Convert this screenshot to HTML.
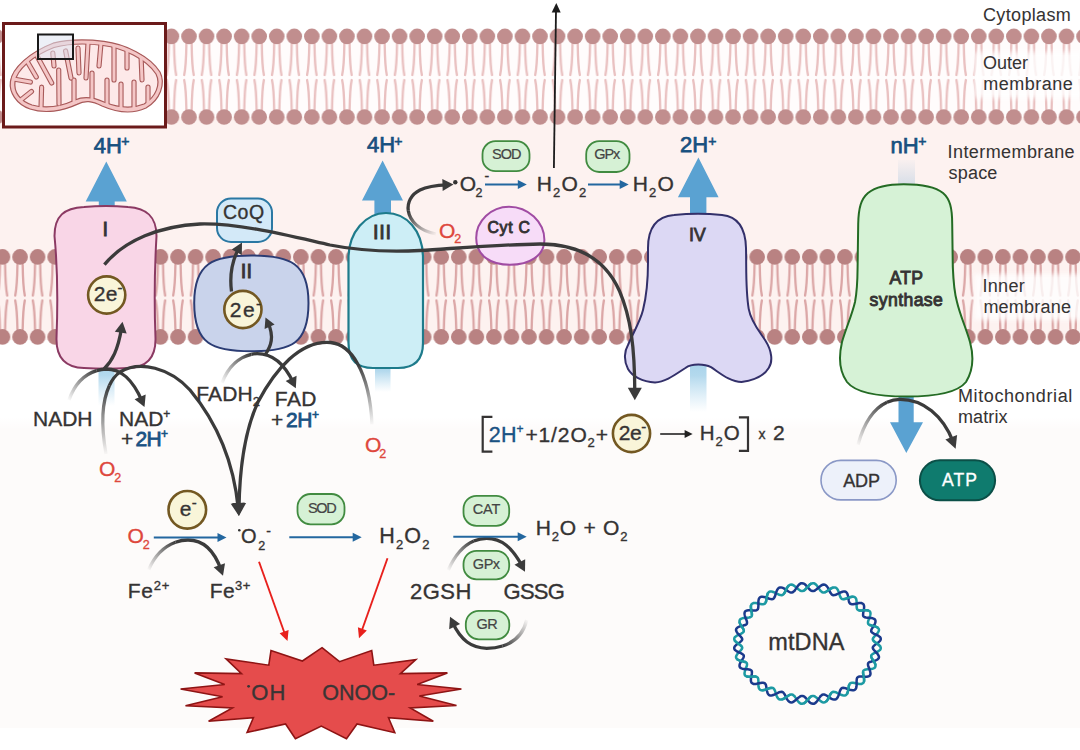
<!DOCTYPE html>
<html><head><meta charset="utf-8">
<style>
html,body{margin:0;padding:0;background:#ffffff;overflow:hidden}
svg{display:block}
text{font-family:"Liberation Sans",sans-serif;fill:#353333;stroke:#353333;stroke-width:0.35px}
.b{font-weight:bold}
.blue{fill:#17507f}
.red{fill:#de473c}
</style></head>
<body>
<svg width="1080" height="750" viewBox="0 0 1080 750">
<defs>
<pattern id="pOut" patternUnits="userSpaceOnUse" x="4.725" y="0" width="17.55" height="130">
  <g fill="none" stroke="#e9c0c0" stroke-width="2.3" stroke-linecap="round">
    <path d="M6.2 44 C6 58 5.5 68 4 75"/><path d="M11.4 44 C11.6 58 12 68 13.5 75"/>
    <path d="M4 80 C5.5 87 6 98 6.2 110"/><path d="M13.5 80 C12 87 11.6 98 11.4 110"/>
  </g>
  <g fill="#c18e8e"><circle cx="8.775" cy="36.4" r="7.8"/><circle cx="8.775" cy="117" r="7.8"/></g>
</pattern>
<pattern id="pIn" patternUnits="userSpaceOnUse" x="-6.275" y="0" width="17.55" height="360">
  <g fill="none" stroke="#dba6a6" stroke-width="2.3" stroke-linecap="round">
    <path d="M6.2 265 C6 279 5.5 288 4 295.5"/><path d="M11.4 265 C11.6 279 12 288 13.5 295.5"/>
    <path d="M4 300.5 C5.5 308 6 318 6.2 329"/><path d="M13.5 300.5 C12 308 11.6 318 11.4 329"/>
  </g>
  <g fill="#b98282"><circle cx="8.775" cy="256.9" r="7.8"/><circle cx="8.775" cy="336.9" r="7.8"/></g>
</pattern>
<clipPath id="bandclip"><path d="M10.4 81.6 C12 68 30 52 53 43.2 C68 39.5 85 39 104 41.4 C125 44 150 56 160 72 C166 84 160 100 146 108 C133 114 118 113 102 106 C92 101 85 100 77 104.4 C63 111 45 114 30 109 C16 104 9 92 10.4 81.6 Z"/></clipPath>
</defs>

<!-- backgrounds -->
<rect x="0" y="0" width="1080" height="750" fill="#fdfbfa"/>
<rect x="0" y="0" width="1080" height="40" fill="#ffffff"/>
<rect x="0" y="40" width="1080" height="77" fill="#fffcfc"/>
<rect x="0" y="117" width="1080" height="223" fill="#fdf2f0"/>
<linearGradient id="mband" x1="0" y1="0" x2="0" y2="1"><stop offset="0" stop-color="#ffffff"/><stop offset="0.86" stop-color="#ffffff"/><stop offset="1" stop-color="#ffffff" stop-opacity="0"/></linearGradient>
<rect x="0" y="340" width="1080" height="90" fill="url(#mband)"/>
<rect x="0" y="728" width="1080" height="22" fill="#ffffff"/>

<!-- membranes -->
<rect x="0" y="26" width="1080" height="100" fill="url(#pOut)"/>
<rect x="0" y="247" width="1080" height="100" fill="url(#pIn)"/>

<!-- label backdrops -->
<filter id="soft" x="-20%" y="-30%" width="140%" height="160%"><feGaussianBlur stdDeviation="2.5"/></filter>
<rect x="974" y="52" width="110" height="46" fill="#ffffff" opacity="0.8" filter="url(#soft)"/>
<rect x="974" y="274" width="110" height="46" fill="#ffffff" opacity="0.8" filter="url(#soft)"/>

<!-- inset -->
<rect x="3.5" y="23.5" width="162" height="103.5" fill="#ffffff" stroke="#6b1a1a" stroke-width="3"/>
<path fill="#f4c6c6" d="M10.4 81.6 C12 68 30 52 53 43.2 C68 39.5 85 39 104 41.4 C125 44 150 56 160 72 C166 84 160 100 146 108 C133 114 118 113 102 106 C92 101 85 100 77 104.4 C63 111 45 114 30 109 C16 104 9 92 10.4 81.6 Z"/>
<path fill="#fde9e9" d="M15 81.6 C17 70 32 56 54 47.5 C69 43.5 85 43 103 45.5 C123 48 146 59 156 74 C161 84 156 97 144 104 C132 109 119 108 104 102 C93 97 84 96 75 100 C62 106 46 109 32 105 C20 101 13.5 92 15 81.6 Z"/>
<path fill="none" stroke="#a85a5a" stroke-width="5.2" stroke-linecap="round" clip-path="url(#bandclip)" d="M37 56 L51.7 83 M52.8 53 L54 66 M65.6 51 L71 78 M78 48 L79 73 M88 43 L86 78 M101 43 L99 66 M114 45 L114 80 M127 49 L127 68 M141 55 L142 80 M12 78.7 L30.4 82 M24 56 L36.3 77 M17 103 L31.5 91.5 M41 109 L41.6 87.2 M59 104 L58.7 70.1 M74 101 L74 80 M92 102 L92 73 M107 106 L107 80 M121 109 L121 84 M134 109 L134 82 M148 104 L148 87"/>

<path fill="#f4c6c6" fill-rule="evenodd" d="M10.4 81.6 C12 68 30 52 53 43.2 C68 39.5 85 39 104 41.4 C125 44 150 56 160 72 C166 84 160 100 146 108 C133 114 118 113 102 106 C92 101 85 100 77 104.4 C63 111 45 114 30 109 C16 104 9 92 10.4 81.6 Z M15 81.6 C17 70 32 56 54 47.5 C69 43.5 85 43 103 45.5 C123 48 146 59 156 74 C161 84 156 97 144 104 C132 109 119 108 104 102 C93 97 84 96 75 100 C62 106 46 109 32 105 C20 101 13.5 92 15 81.6 Z"/>
<path fill="none" stroke="#a85a5a" stroke-width="1.2" d="M15 81.6 C17 70 32 56 54 47.5 C69 43.5 85 43 103 45.5 C123 48 146 59 156 74 C161 84 156 97 144 104 C132 109 119 108 104 102 C93 97 84 96 75 100 C62 106 46 109 32 105 C20 101 13.5 92 15 81.6 Z"/>
<path fill="none" stroke="#f4c6c6" stroke-width="3" stroke-linecap="round" clip-path="url(#bandclip)" d="M37 56 L51.7 83 M52.8 53 L54 66 M65.6 51 L71 78 M78 48 L79 73 M88 43 L86 78 M101 43 L99 66 M114 45 L114 80 M127 49 L127 68 M141 55 L142 80 M12 78.7 L30.4 82 M24 56 L36.3 77 M17 103 L31.5 91.5 M41 109 L41.6 87.2 M59 104 L58.7 70.1 M74 101 L74 80 M92 102 L92 73 M107 106 L107 80 M121 109 L121 84 M134 109 L134 82 M148 104 L148 87"/>
<path fill="none" stroke="#a85a5a" stroke-width="1.2" d="M10.4 81.6 C12 68 30 52 53 43.2 C68 39.5 85 39 104 41.4 C125 44 150 56 160 72 C166 84 160 100 146 108 C133 114 118 113 102 106 C92 101 85 100 77 104.4 C63 111 45 114 30 109 C16 104 9 92 10.4 81.6 Z"/>
<rect x="38" y="34.5" width="35" height="24.5" fill="#dfe3f0" fill-opacity="0.55" stroke="#1a1a1a" stroke-width="2"/>


<!-- gradients -->
<defs>
<linearGradient id="fadeB" x1="0" y1="0" x2="0" y2="1"><stop offset="0" stop-color="#a6d2ea"/><stop offset="0.3" stop-color="#a6d2ea" stop-opacity="0.85"/><stop offset="1" stop-color="#b6dbef" stop-opacity="0"/></linearGradient>
<linearGradient id="fadeG" x1="0" y1="0" x2="0" y2="1"><stop offset="0" stop-color="#d3dce7" stop-opacity="0.1"/><stop offset="1" stop-color="#d3dce7"/></linearGradient>
</defs>
<!-- faded shafts -->
<rect x="98.5" y="362" width="16" height="44" fill="url(#fadeB)"/>
<rect x="375" y="362" width="15.5" height="30" fill="url(#fadeB)"/>
<rect x="690" y="360" width="16.5" height="52" fill="url(#fadeB)"/>
<rect x="898" y="160" width="17" height="28" fill="url(#fadeG)"/>

<!-- blue up arrows -->
<g fill="#5aa2d2">
<path d="M106.3 161.4 L126.8 201.5 L114.7 201.5 L114.7 212 L98.8 212 L98.8 201.5 L85.7 201.5 Z"/>
<path d="M382.6 160.6 L403 200.6 L391 200.6 L391 218 L374.4 218 L374.4 200.6 L362 200.6 Z"/>
<path d="M698.4 157.5 L718.6 197.2 L706.4 197.2 L706.4 218 L690 218 L690 197.2 L677.9 197.2 Z"/>
<path d="M906.3 453.1 L923 422.2 L913.7 422.2 L913.7 392 L898.5 392 L898.5 422.2 L890 422.2 Z"/>
</g>

<!-- Complex I -->
<path fill="#f9d6e7" stroke="#8b3a63" stroke-width="2" d="M84 207 Q106 205 128 207 C146 208 156.5 216 156.5 236 C155 262 154 300 155.5 338 C156 358 146 367.5 128 368 Q106 369.5 84 368 C66 367.5 56 358 56.5 338 C58 300 57 262 54.5 236 C54.5 216 64 208 84 207 Z"/>
<!-- CoQ -->
<rect x="217" y="198.5" width="55" height="43.5" rx="14" fill="#d3e9f8" stroke="#2b78a3" stroke-width="2"/>
<!-- Complex II -->
<path fill="#c9d3eb" stroke="#2b3c74" stroke-width="2" d="M251.5 255.5 C290 255.5 308.5 263 308.5 303 C308.5 344 291 351.3 251.5 351.3 C212 351.3 194.2 344 194.2 303 C194.2 263 213 255.5 251.5 255.5 Z"/>
<!-- Complex III -->
<path fill="#cdeef6" stroke="#1e7b8b" stroke-width="2.2" d="M348.5 258 C348.5 232 366 213 386 213 C406 213 423 230 423 258 L423 343 C423 360 414 368 398 368 L373 368 C357 368 348.5 360 348.5 343 Z"/>
<!-- Complex IV -->
<path fill="#dcd8f4" stroke="#33306a" stroke-width="2" d="M674 215 C690 213.2 706 213.2 722 215 C738 216.5 745.5 228 746 248 C746.5 270 745.5 290 748.7 308.8 C751 322 760 332 765.5 340.8 C772 351 773 362 768.7 368 C764 376 755 380 741.5 382 C730 382 720 373 711 367.2 C705 364 692 363 685.4 368 C676 374 666 382 655 382.4 C642 382 632 376 628 369 C623 360 625 350 628 345 C633 333 640 322 643 310 C646 298 648 280 648 262 L648 248 C648 228 657 216.5 674 215 Z"/>
<!-- ATP synthase -->
<path fill="#d6f2d6" stroke="#246b24" stroke-width="2" d="M903.7 184.2 C920 184.2 935 186.5 943 193 C950 199 952.2 208 952.2 224 C952.3 240 952.6 255 952.8 267 C953.5 285 955 295 957 302 C960 315 966 328 970 342 C973.5 355 973.5 370 966 382 C958 392 940 396.6 906.7 396.6 C873 396.6 855 392 847 382 C839 371 839 355 842 342 C846 328 852 315 855 302 C857 292 857.5 280 857.6 267 L858.2 224 C858.5 208 861 199 868 193 C876 186.5 888 184.2 903.7 184.2 Z"/>
<!-- Cyt C -->
<path fill="#f7dcf8" stroke="#a04ca3" stroke-width="2" d="M509 206.7 C528 206.7 544.4 222 544.4 240 C544.4 256 529 264.8 510 264.8 C491 264.8 476.2 256 476.2 238 C476.2 221 491 206.7 509 206.7 Z"/>

<!-- ARROWS START -->
<defs>
<linearGradient id="g_fad" gradientUnits="userSpaceOnUse" x1="222.0" y1="382.8" x2="251.4" y2="354.3"><stop offset="0" stop-color="#3b3b3b" stop-opacity="0.03"/><stop offset="1" stop-color="#3b3b3b"/></linearGradient>
<linearGradient id="g_nad" gradientUnits="userSpaceOnUse" x1="69.0" y1="400.0" x2="96.7" y2="370.7"><stop offset="0" stop-color="#3b3b3b" stop-opacity="0.03"/><stop offset="1" stop-color="#3b3b3b"/></linearGradient>
<linearGradient id="g_o1" gradientUnits="userSpaceOnUse" x1="106.0" y1="454.0" x2="109.4" y2="385.5"><stop offset="0" stop-color="#3b3b3b" stop-opacity="0.03"/><stop offset="1" stop-color="#3b3b3b"/></linearGradient>
<linearGradient id="g_o3" gradientUnits="userSpaceOnUse" x1="372.0" y1="424.4" x2="357.5" y2="363.5"><stop offset="0" stop-color="#3b3b3b" stop-opacity="0.03"/><stop offset="1" stop-color="#3b3b3b"/></linearGradient>
<linearGradient id="g_o2" gradientUnits="userSpaceOnUse" x1="436.0" y1="234.0" x2="408.3" y2="210.8"><stop offset="0" stop-color="#3b3b3b" stop-opacity="0.03"/><stop offset="1" stop-color="#3b3b3b"/></linearGradient>
<linearGradient id="g_fe" gradientUnits="userSpaceOnUse" x1="148.7" y1="569.6" x2="175.5" y2="542.3"><stop offset="0" stop-color="#3b3b3b" stop-opacity="0.03"/><stop offset="1" stop-color="#3b3b3b"/></linearGradient>
<linearGradient id="g_gpx" gradientUnits="userSpaceOnUse" x1="448.3" y1="570.0" x2="473.8" y2="541.0"><stop offset="0" stop-color="#3b3b3b" stop-opacity="0.03"/><stop offset="1" stop-color="#3b3b3b"/></linearGradient>
<linearGradient id="g_gr" gradientUnits="userSpaceOnUse" x1="526.7" y1="620.0" x2="502.5" y2="646.0"><stop offset="0" stop-color="#3b3b3b" stop-opacity="0.03"/><stop offset="1" stop-color="#3b3b3b"/></linearGradient>
<linearGradient id="g_atp" gradientUnits="userSpaceOnUse" x1="858.0" y1="444.8" x2="887.0" y2="402.3"><stop offset="0" stop-color="#3b3b3b" stop-opacity="0.03"/><stop offset="1" stop-color="#3b3b3b"/></linearGradient>
</defs>
<path d="M104.4 264.6 C125.0 240.0 160.0 226.0 200.0 224.0 C240.0 223.0 290.0 236.0 330.0 245.0 C360.0 251.0 390.0 252.0 420.0 250.5 C460.0 248.0 500.0 244.5 540.0 244.0 C582.0 244.0 607.0 263.0 619.5 291.0 C630.9 317.7 634.7 347.1 634.8 393.3" fill="none" stroke="#3b3b3b" stroke-width="3.3"/>
<polygon points="634.8,400.2 627.8,387.7 641.8,387.7" fill="#3b3b3b"/>
<path d="M231.5 291.5 C229.7 277.6 230.7 263.2 239.0 247.8" fill="none" stroke="#3b3b3b" stroke-width="3.3"/>
<polygon points="242.0,242.5 241.8,254.9 231.7,249.5" fill="#3b3b3b"/>
<path d="M264.8 355.4 C271.3 346.0 274.4 337.0 267.9 322.4" fill="none" stroke="#3b3b3b" stroke-width="3.3"/>
<polygon points="265.5,317.5 274.6,324.4 264.6,328.9" fill="#3b3b3b"/>
<path d="M222.0 382.8 C228.8 365.1 240.7 356.7 251.4 354.3" fill="none" stroke="url(#g_fad)" stroke-width="3.3"/>
<path d="M251.4 354.3 C253.3 353.9 255.2 353.7 257.0 353.6 C270.9 353.5 283.1 360.8 293.4 382.8" fill="none" stroke="#3b3b3b" stroke-width="3.3"/>
<polygon points="295.8,388.3 285.7,380.9 296.6,375.8" fill="#3b3b3b"/>
<path d="M69.0 400.0 C74.6 384.0 84.7 374.4 96.7 370.7" fill="none" stroke="url(#g_nad)" stroke-width="3.3"/>
<path d="M96.7 370.7 C99.7 369.8 102.8 369.2 106.0 369.0 C120.8 369.0 132.2 378.5 142.2 401.4" fill="none" stroke="#3b3b3b" stroke-width="3.3"/>
<polygon points="144.5,407.0 134.6,399.3 145.7,394.5" fill="#3b3b3b"/>
<path d="M104.0 369.0 C112.3 360.7 118.0 349.9 121.6 327.8" fill="none" stroke="#3b3b3b" stroke-width="3.3"/>
<polygon points="122.5,321.8 126.7,333.6 114.8,331.7" fill="#3b3b3b"/>
<path d="M106.0 454.0 C101.5 428.5 101.5 402.4 109.4 385.5" fill="none" stroke="url(#g_o1)" stroke-width="3.3"/>
<path d="M109.4 385.5 C112.0 379.9 115.5 375.2 120.0 372.0 C140.0 360.0 170.0 368.0 190.0 390.0 C213.9 418.7 233.3 456.6 238.3 508.9" fill="none" stroke="#3b3b3b" stroke-width="3.3"/>
<polygon points="238.9,516.0 230.7,503.7 244.7,502.4" fill="#3b3b3b"/>
<path d="M372.0 424.4 C370.9 400.0 365.9 378.4 357.5 363.5" fill="none" stroke="url(#g_o3)" stroke-width="3.3"/>
<path d="M357.5 363.5 C350.7 351.3 341.6 343.6 330.6 342.5 C300.0 340.0 275.0 370.0 258.0 402.0 C245.7 428.5 239.6 465.8 239.0 508.8" fill="none" stroke="#3b3b3b" stroke-width="3.3"/>
<polygon points="238.9,516.0 232.1,502.9 246.1,503.1" fill="#3b3b3b"/>
<path d="M436.0 234.0 C418.9 230.7 409.8 220.7 408.3 210.8" fill="none" stroke="url(#g_o2)" stroke-width="3.3"/>
<path d="M408.3 210.8 C407.1 202.6 411.0 194.5 420.0 190.0 C427.0 186.5 434.0 185.3 447.4 184.8" fill="none" stroke="#3b3b3b" stroke-width="3.3"/>
<polygon points="453.5,184.6 442.7,191.0 442.3,179.0" fill="#3b3b3b"/>
<path d="M148.7 569.6 C155.2 554.5 165.5 546.0 175.5 542.3" fill="none" stroke="url(#g_fe)" stroke-width="3.3"/>
<path d="M175.5 542.3 C179.8 540.7 184.1 540.0 188.0 540.0 C203.6 540.0 214.1 550.1 221.1 569.9" fill="none" stroke="#3b3b3b" stroke-width="3.3"/>
<polygon points="223.0,575.7 213.7,567.3 225.0,563.3" fill="#3b3b3b"/>
<path d="M448.3 570.0 C455.1 554.6 464.0 545.2 473.8 541.0" fill="none" stroke="url(#g_gpx)" stroke-width="3.3"/>
<path d="M473.8 541.0 C477.9 539.2 482.3 538.3 486.7 538.3 C501.6 538.3 512.1 547.3 522.3 566.3" fill="none" stroke="#3b3b3b" stroke-width="3.3"/>
<polygon points="525.0,571.7 514.5,564.8 525.2,559.2" fill="#3b3b3b"/>
<path d="M526.7 620.0 C523.4 634.0 514.1 642.3 502.5 646.0" fill="none" stroke="url(#g_gr)" stroke-width="3.3"/>
<path d="M502.5 646.0 C497.6 647.6 492.2 648.3 486.7 648.3 C471.5 648.0 461.0 640.5 452.4 622.3" fill="none" stroke="#3b3b3b" stroke-width="3.3"/>
<polygon points="450.0,616.7 460.1,624.1 449.2,629.2" fill="#3b3b3b"/>
<path d="M858.0 444.8 C864.0 422.4 874.5 408.1 887.0 402.3" fill="none" stroke="url(#g_atp)" stroke-width="3.3"/>
<path d="M887.0 402.3 C891.1 400.4 895.5 399.4 900.0 399.4 C923.2 399.4 943.0 415.5 953.4 442.3" fill="none" stroke="#3b3b3b" stroke-width="3.3"/>
<polygon points="955.6,448.7 945.4,439.5 957.1,435.1" fill="#3b3b3b"/>
<line x1="485" y1="184.4" x2="520.8" y2="184.4" stroke="#23679f" stroke-width="2"/>
<polygon points="526.8,184.4 517.8,188.9 517.8,179.9" fill="#23679f"/>
<line x1="588" y1="184.4" x2="622.7" y2="184.4" stroke="#23679f" stroke-width="2"/>
<polygon points="628.7,184.4 619.7,188.9 619.7,179.9" fill="#23679f"/>
<line x1="153.8" y1="537.4" x2="220.5" y2="537.4" stroke="#23679f" stroke-width="2"/>
<polygon points="226.5,537.4 217.5,541.9 217.5,532.9" fill="#23679f"/>
<line x1="289.3" y1="537.3" x2="355.7" y2="537.3" stroke="#23679f" stroke-width="2"/>
<polygon points="361.7,537.3 352.7,541.8 352.7,532.8" fill="#23679f"/>
<line x1="453.3" y1="536.7" x2="520.7" y2="536.7" stroke="#23679f" stroke-width="2"/>
<polygon points="526.7,536.7 517.7,541.2 517.7,532.2" fill="#23679f"/>
<line x1="553.9" y1="168" x2="556" y2="10" stroke="#1c1c1c" stroke-width="1.8"/>
<polygon points="556.3,3.0 560.7,12.6 551.7,12.4" fill="#1c1c1c"/>
<line x1="660.2" y1="434" x2="686" y2="434" stroke="#222" stroke-width="1.6"/>
<polygon points="692.6,434.0 684.6,438.0 684.6,430.0" fill="#222"/>
<line x1="259" y1="561.8" x2="284.5" y2="633" stroke="#e8201c" stroke-width="1.9"/>
<polygon points="287.5,641.0 279.6,633.2 288.6,630.0" fill="#e8201c"/>
<line x1="387.5" y1="558.3" x2="362" y2="630" stroke="#e8201c" stroke-width="1.9"/>
<polygon points="359.0,638.2 357.9,627.2 366.8,630.4" fill="#e8201c"/>
<!-- ARROWS END -->

<!-- MISC START -->
<polygon points="322,647.7 339.5,661.7 371.7,650.5 373.8,665.2 415.8,659.6 400.4,673.6 447.4,672.9 417.2,684.5 461.4,689 419.3,696 456.5,705.5 410.2,707.9 433.3,721.2 388.5,717.7 394.8,732.7 357,724 346.5,738.7 321.3,726.1 295.4,738.7 285.6,724 247.1,732.4 253.4,717.7 208.6,721.2 232.4,707.9 185.5,705.8 222.6,696.7 180.6,689 224.7,684.5 194.6,672.9 241.5,673.6 226.1,658.9 268.8,665.2 271,650.5 302.4,661" fill="#e54c4c" stroke="#8e1414" stroke-width="1.6" stroke-linejoin="miter"/>
<path d="M877.0 643.5 L878.2 644.4 L879.2 645.3 L880.1 646.2 L880.6 647.2 L880.8 648.1 L880.6 649.0 L880.1 649.9 L879.2 650.6 L878.1 651.4 L876.8 652.0 L875.5 652.6 L874.2 653.2 L873.0 653.8 L872.1 654.4 L871.5 655.0 L871.2 655.7 L871.2 656.6 L871.5 657.5 L872.1 658.6 L872.8 659.7 L873.6 661.0 L874.4 662.2 L875.0 663.5 L875.4 664.7 L875.5 665.8 L875.4 666.7 L874.9 667.5 L874.0 668.1 L872.9 668.6 L871.6 668.9 L870.2 669.1 L868.7 669.2 L867.3 669.3 L866.0 669.5 L864.9 669.7 L864.0 670.2 L863.4 670.8 L863.1 671.6 L863.1 672.7 L863.2 673.9 L863.4 675.3 L863.7 676.7 L864.0 678.2 L864.1 679.6 L864.1 680.9 L863.8 682.0 L863.3 682.9 L862.5 683.5 L861.5 683.9 L860.2 684.0 L858.9 683.9 L857.4 683.6 L855.9 683.3 L854.5 683.0 L853.1 682.7 L852.0 682.7 L851.0 682.9 L850.2 683.3 L849.6 684.0 L849.1 685.0 L848.8 686.3 L848.6 687.7 L848.4 689.2 L848.1 690.7 L847.7 692.2 L847.3 693.4 L846.6 694.4 L845.8 695.1 L844.9 695.5 L843.7 695.6 L842.5 695.3 L841.1 694.8 L839.7 694.2 L838.4 693.5 L837.0 692.8 L835.8 692.2 L834.6 691.9 L833.5 691.8 L832.6 692.0 L831.8 692.5 L831.0 693.4 L830.3 694.5 L829.6 695.8 L829.0 697.2 L828.3 698.6 L827.5 699.9 L826.7 701.0 L825.8 701.8 L824.8 702.3 L823.7 702.4 L822.5 702.2 L821.4 701.6 L820.2 700.8 L819.0 699.8 L817.8 698.8 L816.6 697.8 L815.5 696.9 L814.5 696.2 L813.4 695.9 L812.5 695.9 L811.5 696.2 L810.5 696.8 L809.5 697.7 L808.5 698.8 L807.5 700.0 L806.4 701.2 L805.4 702.2 L804.3 703.1 L803.2 703.6 L802.1 703.8 L801.0 703.7 L799.9 703.1 L798.9 702.3 L798.0 701.2 L797.1 700.0 L796.2 698.6 L795.3 697.4 L794.5 696.2 L793.6 695.4 L792.7 694.7 L791.8 694.5 L790.8 694.5 L789.7 694.9 L788.5 695.5 L787.3 696.3 L786.0 697.2 L784.7 698.1 L783.4 698.9 L782.2 699.4 L781.0 699.6 L779.9 699.6 L778.9 699.1 L778.1 698.4 L777.3 697.3 L776.7 696.0 L776.2 694.6 L775.7 693.1 L775.3 691.7 L774.8 690.4 L774.2 689.3 L773.6 688.5 L772.8 688.0 L771.8 687.8 L770.7 687.9 L769.4 688.2 L768.1 688.7 L766.6 689.2 L765.2 689.7 L763.8 690.1 L762.5 690.3 L761.3 690.2 L760.3 689.9 L759.5 689.2 L758.9 688.3 L758.6 687.1 L758.4 685.7 L758.4 684.2 L758.4 682.7 L758.4 681.2 L758.3 679.9 L758.2 678.7 L757.8 677.8 L757.2 677.2 L756.4 676.7 L755.4 676.5 L754.2 676.5 L752.8 676.6 L751.3 676.7 L749.8 676.8 L748.3 676.8 L747.1 676.6 L746.0 676.2 L745.2 675.6 L744.7 674.8 L744.5 673.8 L744.6 672.6 L744.9 671.2 L745.3 669.8 L745.8 668.5 L746.4 667.1 L746.8 665.9 L747.0 664.8 L747.0 663.9 L746.8 663.1 L746.2 662.5 L745.3 662.0 L744.1 661.7 L742.8 661.3 L741.4 661.0 L740.0 660.6 L738.7 660.1 L737.5 659.5 L736.7 658.8 L736.2 658.0 L736.0 657.1 L736.2 656.1 L736.7 655.1 L737.4 654.0 L738.4 652.9 L739.4 651.8 L740.3 650.8 L741.2 649.8 L741.8 649.0 L742.2 648.1 L742.2 647.4 L741.8 646.6 L741.2 645.9 L740.3 645.1 L739.2 644.3 L738.0 643.5 L736.8 642.6 L735.8 641.7 L734.9 640.8 L734.4 639.8 L734.2 638.9 L734.4 638.0 L734.9 637.1 L735.8 636.4 L736.9 635.6 L738.2 635.0 L739.5 634.4 L740.8 633.8 L742.0 633.2 L742.9 632.6 L743.5 632.0 L743.8 631.3 L743.8 630.4 L743.5 629.5 L742.9 628.4 L742.2 627.3 L741.4 626.0 L740.6 624.8 L740.0 623.5 L739.6 622.3 L739.5 621.2 L739.6 620.3 L740.1 619.5 L741.0 618.9 L742.1 618.4 L743.4 618.1 L744.8 617.9 L746.3 617.8 L747.7 617.7 L749.0 617.5 L750.1 617.3 L751.0 616.8 L751.6 616.2 L751.9 615.4 L751.9 614.3 L751.8 613.1 L751.6 611.7 L751.3 610.3 L751.0 608.8 L750.9 607.4 L750.9 606.1 L751.2 605.0 L751.7 604.1 L752.5 603.5 L753.5 603.1 L754.8 603.0 L756.1 603.1 L757.6 603.4 L759.1 603.7 L760.5 604.0 L761.9 604.3 L763.0 604.3 L764.0 604.1 L764.8 603.7 L765.4 603.0 L765.9 602.0 L766.2 600.7 L766.4 599.3 L766.6 597.8 L766.9 596.3 L767.3 594.8 L767.7 593.6 L768.4 592.6 L769.2 591.9 L770.1 591.5 L771.3 591.4 L772.5 591.7 L773.9 592.2 L775.3 592.8 L776.6 593.5 L778.0 594.2 L779.2 594.8 L780.4 595.1 L781.5 595.2 L782.4 595.0 L783.2 594.5 L784.0 593.6 L784.7 592.5 L785.4 591.2 L786.0 589.8 L786.7 588.4 L787.5 587.1 L788.3 586.0 L789.2 585.2 L790.2 584.7 L791.3 584.6 L792.5 584.8 L793.6 585.4 L794.8 586.2 L796.0 587.2 L797.2 588.2 L798.4 589.2 L799.5 590.1 L800.5 590.8 L801.6 591.1 L802.5 591.1 L803.5 590.8 L804.5 590.2 L805.5 589.3 L806.5 588.2 L807.5 587.0 L808.6 585.8 L809.6 584.8 L810.7 583.9 L811.8 583.4 L812.9 583.2 L814.0 583.3 L815.1 583.9 L816.1 584.7 L817.0 585.8 L817.9 587.0 L818.8 588.4 L819.7 589.6 L820.5 590.8 L821.4 591.6 L822.3 592.3 L823.2 592.5 L824.2 592.5 L825.3 592.1 L826.5 591.5 L827.7 590.7 L829.0 589.8 L830.3 588.9 L831.6 588.1 L832.8 587.6 L834.0 587.4 L835.1 587.4 L836.1 587.9 L836.9 588.6 L837.7 589.7 L838.3 591.0 L838.8 592.4 L839.3 593.9 L839.7 595.3 L840.2 596.6 L840.8 597.7 L841.4 598.5 L842.2 599.0 L843.2 599.2 L844.3 599.1 L845.6 598.8 L846.9 598.3 L848.4 597.8 L849.8 597.3 L851.2 596.9 L852.5 596.7 L853.7 596.8 L854.7 597.1 L855.5 597.8 L856.1 598.7 L856.4 599.9 L856.6 601.3 L856.6 602.8 L856.6 604.3 L856.6 605.8 L856.7 607.1 L856.8 608.3 L857.2 609.2 L857.8 609.8 L858.6 610.3 L859.6 610.5 L860.8 610.5 L862.2 610.4 L863.7 610.3 L865.2 610.2 L866.7 610.2 L867.9 610.4 L869.0 610.8 L869.8 611.4 L870.3 612.2 L870.5 613.2 L870.4 614.4 L870.1 615.8 L869.7 617.2 L869.2 618.5 L868.6 619.9 L868.2 621.1 L868.0 622.2 L868.0 623.1 L868.2 623.9 L868.8 624.5 L869.7 625.0 L870.9 625.3 L872.2 625.7 L873.6 626.0 L875.0 626.4 L876.3 626.9 L877.5 627.5 L878.3 628.2 L878.8 629.0 L879.0 629.9 L878.8 630.9 L878.3 631.9 L877.6 633.0 L876.6 634.1 L875.6 635.2 L874.7 636.2 L873.8 637.2 L873.2 638.0 L872.8 638.9 L872.8 639.6 L873.2 640.4 L873.8 641.1 L874.7 641.9 L875.8 642.7 L877.0 643.5Z" fill="none" stroke="#1d9aa3" stroke-width="2.5"/>
<path d="M877.0 643.5 L875.8 644.3 L874.7 645.1 L873.8 645.9 L873.2 646.6 L872.8 647.4 L872.8 648.1 L873.2 649.0 L873.8 649.8 L874.7 650.8 L875.6 651.8 L876.6 652.9 L877.6 654.0 L878.3 655.1 L878.8 656.1 L879.0 657.1 L878.8 658.0 L878.3 658.8 L877.5 659.5 L876.3 660.1 L875.0 660.6 L873.6 661.0 L872.2 661.3 L870.9 661.7 L869.7 662.0 L868.8 662.5 L868.2 663.1 L868.0 663.9 L868.0 664.8 L868.2 665.9 L868.6 667.1 L869.2 668.5 L869.7 669.8 L870.1 671.2 L870.4 672.6 L870.5 673.8 L870.3 674.8 L869.8 675.6 L869.0 676.2 L867.9 676.6 L866.7 676.8 L865.2 676.8 L863.7 676.7 L862.2 676.6 L860.8 676.5 L859.6 676.5 L858.6 676.7 L857.8 677.2 L857.2 677.8 L856.8 678.7 L856.7 679.9 L856.6 681.2 L856.6 682.7 L856.6 684.2 L856.6 685.7 L856.4 687.1 L856.1 688.3 L855.5 689.2 L854.7 689.9 L853.7 690.2 L852.5 690.3 L851.2 690.1 L849.8 689.7 L848.4 689.2 L846.9 688.7 L845.6 688.2 L844.3 687.9 L843.2 687.8 L842.2 688.0 L841.4 688.5 L840.8 689.3 L840.2 690.4 L839.7 691.7 L839.3 693.1 L838.8 694.6 L838.3 696.0 L837.7 697.3 L836.9 698.4 L836.1 699.1 L835.1 699.6 L834.0 699.6 L832.8 699.4 L831.6 698.9 L830.3 698.1 L829.0 697.2 L827.7 696.3 L826.5 695.5 L825.3 694.9 L824.2 694.5 L823.2 694.5 L822.3 694.7 L821.4 695.4 L820.5 696.2 L819.7 697.4 L818.8 698.6 L817.9 700.0 L817.0 701.2 L816.1 702.3 L815.1 703.1 L814.0 703.7 L812.9 703.8 L811.8 703.6 L810.7 703.1 L809.6 702.2 L808.6 701.2 L807.5 700.0 L806.5 698.8 L805.5 697.7 L804.5 696.8 L803.5 696.2 L802.5 695.9 L801.6 695.9 L800.5 696.2 L799.5 696.9 L798.4 697.8 L797.2 698.8 L796.0 699.8 L794.8 700.8 L793.6 701.6 L792.5 702.2 L791.3 702.4 L790.2 702.3 L789.2 701.8 L788.3 701.0 L787.5 699.9 L786.7 698.6 L786.0 697.2 L785.4 695.8 L784.7 694.5 L784.0 693.4 L783.2 692.5 L782.4 692.0 L781.5 691.8 L780.4 691.9 L779.2 692.2 L778.0 692.8 L776.6 693.5 L775.3 694.2 L773.9 694.8 L772.5 695.3 L771.3 695.6 L770.1 695.5 L769.2 695.1 L768.4 694.4 L767.7 693.4 L767.3 692.2 L766.9 690.7 L766.6 689.2 L766.4 687.7 L766.2 686.3 L765.9 685.0 L765.4 684.0 L764.8 683.3 L764.0 682.9 L763.0 682.7 L761.9 682.7 L760.5 683.0 L759.1 683.3 L757.6 683.6 L756.1 683.9 L754.8 684.0 L753.5 683.9 L752.5 683.5 L751.7 682.9 L751.2 682.0 L750.9 680.9 L750.9 679.6 L751.0 678.2 L751.3 676.7 L751.6 675.3 L751.8 673.9 L751.9 672.7 L751.9 671.6 L751.6 670.8 L751.0 670.2 L750.1 669.7 L749.0 669.5 L747.7 669.3 L746.3 669.2 L744.8 669.1 L743.4 668.9 L742.1 668.6 L741.0 668.1 L740.1 667.5 L739.6 666.7 L739.5 665.8 L739.6 664.7 L740.0 663.5 L740.6 662.2 L741.4 661.0 L742.2 659.7 L742.9 658.6 L743.5 657.5 L743.8 656.6 L743.8 655.7 L743.5 655.0 L742.9 654.4 L742.0 653.8 L740.8 653.2 L739.5 652.6 L738.2 652.0 L736.9 651.4 L735.8 650.6 L734.9 649.9 L734.4 649.0 L734.2 648.1 L734.4 647.2 L734.9 646.2 L735.8 645.3 L736.8 644.4 L738.0 643.5 L739.2 642.7 L740.3 641.9 L741.2 641.1 L741.8 640.4 L742.2 639.6 L742.2 638.9 L741.8 638.0 L741.2 637.2 L740.3 636.2 L739.4 635.2 L738.4 634.1 L737.4 633.0 L736.7 631.9 L736.2 630.9 L736.0 629.9 L736.2 629.0 L736.7 628.2 L737.5 627.5 L738.7 626.9 L740.0 626.4 L741.4 626.0 L742.8 625.7 L744.1 625.3 L745.3 625.0 L746.2 624.5 L746.8 623.9 L747.0 623.1 L747.0 622.2 L746.8 621.1 L746.4 619.9 L745.8 618.5 L745.3 617.2 L744.9 615.8 L744.6 614.4 L744.5 613.2 L744.7 612.2 L745.2 611.4 L746.0 610.8 L747.1 610.4 L748.3 610.2 L749.8 610.2 L751.3 610.3 L752.8 610.4 L754.2 610.5 L755.4 610.5 L756.4 610.3 L757.2 609.8 L757.8 609.2 L758.2 608.3 L758.3 607.1 L758.4 605.8 L758.4 604.3 L758.4 602.8 L758.4 601.3 L758.6 599.9 L758.9 598.7 L759.5 597.8 L760.3 597.1 L761.3 596.8 L762.5 596.7 L763.8 596.9 L765.2 597.3 L766.6 597.8 L768.1 598.3 L769.4 598.8 L770.7 599.1 L771.8 599.2 L772.8 599.0 L773.6 598.5 L774.2 597.7 L774.8 596.6 L775.3 595.3 L775.7 593.9 L776.2 592.4 L776.7 591.0 L777.3 589.7 L778.1 588.6 L778.9 587.9 L779.9 587.4 L781.0 587.4 L782.2 587.6 L783.4 588.1 L784.7 588.9 L786.0 589.8 L787.3 590.7 L788.5 591.5 L789.7 592.1 L790.8 592.5 L791.8 592.5 L792.7 592.3 L793.6 591.6 L794.5 590.8 L795.3 589.6 L796.2 588.4 L797.1 587.0 L798.0 585.8 L798.9 584.7 L799.9 583.9 L801.0 583.3 L802.1 583.2 L803.2 583.4 L804.3 583.9 L805.4 584.8 L806.4 585.8 L807.5 587.0 L808.5 588.2 L809.5 589.3 L810.5 590.2 L811.5 590.8 L812.5 591.1 L813.4 591.1 L814.5 590.8 L815.5 590.1 L816.6 589.2 L817.8 588.2 L819.0 587.2 L820.2 586.2 L821.4 585.4 L822.5 584.8 L823.7 584.6 L824.8 584.7 L825.8 585.2 L826.7 586.0 L827.5 587.1 L828.3 588.4 L829.0 589.8 L829.6 591.2 L830.3 592.5 L831.0 593.6 L831.8 594.5 L832.6 595.0 L833.5 595.2 L834.6 595.1 L835.8 594.8 L837.0 594.2 L838.4 593.5 L839.7 592.8 L841.1 592.2 L842.5 591.7 L843.7 591.4 L844.9 591.5 L845.8 591.9 L846.6 592.6 L847.3 593.6 L847.7 594.8 L848.1 596.3 L848.4 597.8 L848.6 599.3 L848.8 600.7 L849.1 602.0 L849.6 603.0 L850.2 603.7 L851.0 604.1 L852.0 604.3 L853.1 604.3 L854.5 604.0 L855.9 603.7 L857.4 603.4 L858.9 603.1 L860.2 603.0 L861.5 603.1 L862.5 603.5 L863.3 604.1 L863.8 605.0 L864.1 606.1 L864.1 607.4 L864.0 608.8 L863.7 610.3 L863.4 611.7 L863.2 613.1 L863.1 614.3 L863.1 615.4 L863.4 616.2 L864.0 616.8 L864.9 617.3 L866.0 617.5 L867.3 617.7 L868.7 617.8 L870.2 617.9 L871.6 618.1 L872.9 618.4 L874.0 618.9 L874.9 619.5 L875.4 620.3 L875.5 621.2 L875.4 622.3 L875.0 623.5 L874.4 624.8 L873.6 626.0 L872.8 627.3 L872.1 628.4 L871.5 629.5 L871.2 630.4 L871.2 631.3 L871.5 632.0 L872.1 632.6 L873.0 633.2 L874.2 633.8 L875.5 634.4 L876.8 635.0 L878.1 635.6 L879.2 636.4 L880.1 637.1 L880.6 638.0 L880.8 638.9 L880.6 639.8 L880.1 640.8 L879.2 641.7 L878.2 642.6 L877.0 643.5Z" fill="none" stroke="#1b3a8c" stroke-width="2.5"/>
<path d="M873.3 640.6 L873.8 641.1 L874.3 641.6 L874.9 642.0 L875.6 642.5 L876.3 643.0 L877.0 643.5 L877.7 644.0 L878.4 644.6 L879.1 645.1 L879.6 645.7 L880.1 646.3 L880.5 646.8 M871.3 656.9 L871.5 657.5 L871.8 658.1 L872.2 658.8 L872.6 659.5 L873.1 660.2 L873.6 661.0 L874.1 661.7 L874.5 662.5 L874.9 663.3 L875.2 664.0 L875.4 664.7 L875.5 665.4 M863.1 671.9 L863.1 672.6 L863.1 673.3 L863.2 674.1 L863.4 674.9 L863.6 675.8 L863.7 676.7 L863.9 677.6 L864.0 678.5 L864.1 679.4 L864.1 680.2 L864.1 681.0 L863.9 681.7 M849.4 684.3 L849.2 685.0 L848.9 685.7 L848.8 686.5 L848.6 687.4 L848.5 688.3 L848.4 689.2 L848.2 690.1 L848.0 691.1 L847.8 691.9 L847.5 692.7 L847.2 693.5 L846.9 694.1 M831.5 692.8 L831.1 693.3 L830.6 694.0 L830.2 694.7 L829.8 695.5 L829.4 696.4 L829.0 697.2 L828.6 698.1 L828.1 698.9 L827.6 699.7 L827.1 700.4 L826.6 701.1 L826.1 701.6 M811.2 696.4 L810.6 696.8 L810.0 697.3 L809.4 697.9 L808.8 698.6 L808.1 699.3 L807.5 700.0 L806.9 700.7 L806.2 701.4 L805.5 702.1 L804.9 702.6 L804.2 703.1 L803.5 703.5 M790.4 694.6 L789.8 694.9 L789.1 695.2 L788.3 695.7 L787.6 696.2 L786.8 696.7 L786.0 697.2 L785.2 697.8 L784.4 698.3 L783.6 698.7 L782.9 699.1 L782.1 699.4 L781.4 699.6 M771.5 687.8 L770.8 687.9 L770.0 688.0 L769.2 688.3 L768.4 688.6 L767.5 688.9 L766.6 689.2 L765.8 689.5 L764.9 689.8 L764.0 690.1 L763.2 690.2 L762.4 690.3 L761.7 690.3 M756.1 676.6 L755.5 676.5 L754.7 676.5 L753.9 676.5 L753.1 676.6 L752.2 676.6 L751.3 676.7 L750.4 676.8 L749.4 676.8 L748.6 676.8 L747.8 676.7 L747.0 676.6 L746.3 676.4 M745.9 662.4 L745.3 662.1 L744.7 661.8 L743.9 661.6 L743.1 661.4 L742.3 661.2 L741.4 661.0 L740.5 660.7 L739.7 660.5 L738.9 660.2 L738.1 659.9 L737.5 659.5 L736.9 659.1 M741.7 646.4 L741.2 645.9 L740.7 645.4 L740.1 645.0 L739.4 644.5 L738.7 644.0 L738.0 643.5 L737.3 643.0 L736.6 642.4 L735.9 641.9 L735.4 641.3 L734.9 640.7 L734.5 640.2 M743.7 630.1 L743.5 629.5 L743.2 628.9 L742.8 628.2 L742.4 627.5 L741.9 626.8 L741.4 626.0 L740.9 625.3 L740.5 624.5 L740.1 623.7 L739.8 623.0 L739.6 622.3 L739.5 621.6 M751.9 615.1 L751.9 614.4 L751.9 613.7 L751.8 612.9 L751.6 612.1 L751.4 611.2 L751.3 610.3 L751.1 609.4 L751.0 608.5 L750.9 607.6 L750.9 606.8 L750.9 606.0 L751.1 605.3 M765.6 602.7 L765.8 602.0 L766.1 601.3 L766.2 600.5 L766.4 599.6 L766.5 598.7 L766.6 597.8 L766.8 596.9 L767.0 595.9 L767.2 595.1 L767.5 594.3 L767.8 593.5 L768.1 592.9 M783.5 594.2 L783.9 593.7 L784.4 593.0 L784.8 592.3 L785.2 591.5 L785.6 590.6 L786.0 589.8 L786.4 588.9 L786.9 588.1 L787.4 587.3 L787.9 586.6 L788.4 585.9 L788.9 585.4 M803.8 590.6 L804.4 590.2 L805.0 589.7 L805.6 589.1 L806.2 588.4 L806.9 587.7 L807.5 587.0 L808.1 586.3 L808.8 585.6 L809.5 584.9 L810.1 584.4 L810.8 583.9 L811.5 583.5 M824.6 592.4 L825.2 592.1 L825.9 591.8 L826.7 591.3 L827.4 590.8 L828.2 590.3 L829.0 589.8 L829.8 589.2 L830.6 588.7 L831.4 588.3 L832.1 587.9 L832.9 587.6 L833.6 587.4 M843.5 599.2 L844.2 599.1 L845.0 599.0 L845.8 598.7 L846.6 598.4 L847.5 598.1 L848.4 597.8 L849.2 597.5 L850.1 597.2 L851.0 596.9 L851.8 596.8 L852.6 596.7 L853.3 596.7 M858.9 610.4 L859.5 610.5 L860.3 610.5 L861.1 610.5 L861.9 610.4 L862.8 610.4 L863.7 610.3 L864.6 610.2 L865.6 610.2 L866.4 610.2 L867.2 610.3 L868.0 610.4 L868.7 610.6 M869.1 624.6 L869.7 624.9 L870.3 625.2 L871.1 625.4 L871.9 625.6 L872.7 625.8 L873.6 626.0 L874.5 626.3 L875.3 626.5 L876.1 626.8 L876.9 627.1 L877.5 627.5 L878.1 627.9" fill="none" stroke="#1d9aa3" stroke-width="2.5"/>
<!-- MISC END -->
<!-- TEXT START -->
<rect x="482.5" y="141.2" width="47" height="30" rx="13" fill="#d6f1d5" stroke="#418b40" stroke-width="1.8"/>
<rect x="586.2" y="141.2" width="43.3" height="30.8" rx="13" fill="#d6f1d5" stroke="#418b40" stroke-width="1.8"/>
<rect x="297.5" y="494" width="47" height="30.3" rx="13" fill="#d6f1d5" stroke="#418b40" stroke-width="1.8"/>
<rect x="463.5" y="495.8" width="45.7" height="30" rx="13" fill="#d6f1d5" stroke="#418b40" stroke-width="1.8"/>
<rect x="463.5" y="550.8" width="45.7" height="28.5" rx="13" fill="#d6f1d5" stroke="#418b40" stroke-width="1.8"/>
<rect x="465.8" y="610.8" width="43.5" height="28.5" rx="13" fill="#d6f1d5" stroke="#418b40" stroke-width="1.8"/>
<rect x="821" y="460.4" width="75.2" height="39.5" rx="19.75" fill="#edf1fa" stroke="#8a98c6" stroke-width="1.6"/>
<rect x="919.9" y="460.3" width="75.2" height="40" rx="20" fill="#0f7b6e" stroke="#0b4f47" stroke-width="2"/>
<circle cx="106.7" cy="295" r="18.6" fill="#f9f5d9" stroke="#735822" stroke-width="2.6"/>
<circle cx="242.9" cy="309.5" r="18.6" fill="#f9f5d9" stroke="#735822" stroke-width="2.6"/>
<circle cx="631.5" cy="433.5" r="18.6" fill="#f9f5d9" stroke="#735822" stroke-width="2.6"/>
<circle cx="187.3" cy="509.8" r="18.8" fill="#f9f5d9" stroke="#735822" stroke-width="2.6"/>
<circle cx="455.3" cy="182.2" r="2.2" fill="#333"/>
<text x="459.8" y="190.6" font-size="21">O</text><text x="475.6" y="197" font-size="12.5">2</text><text x="484.4" y="181.3" font-size="14">-</text>
<text x="241" y="543.2" font-size="20">O</text><text x="258.3" y="550.3" font-size="12.5">2</text><text x="266.3" y="535.8" font-size="14">-</text>
<circle cx="239.3" cy="530.3" r="1.3" fill="#333"/>
<circle cx="248.6" cy="686.3" r="1.4" fill="#3a3535"/>
<path d="M492.4 416.9 L482.7 416.9 L482.7 451.6 L492.4 451.6" fill="none" stroke="#353333" stroke-width="2.2"/>
<path d="M738.9 417.4 L748 417.4 L748 450.8 L738.9 450.8" fill="none" stroke="#353333" stroke-width="2.2"/>
<text id="t_Cytoplasm" x="983.00" y="21" font-size="18" style="stroke-width:0.05px" textLength="87.83" lengthAdjust="spacing">Cytoplasm</text>
<text id="t_Outer" x="982.90" y="69" font-size="18" style="stroke-width:0.05px" textLength="45.13" lengthAdjust="spacing">Outer</text>
<text id="t_membraneO" x="983.20" y="90" font-size="18" style="stroke-width:0.05px" textLength="89.55" lengthAdjust="spacing">membrane</text>
<text id="t_Intermembrane" x="947.60" y="157.7" font-size="18" style="stroke-width:0.05px" textLength="126.96" lengthAdjust="spacing">Intermembrane</text>
<text id="t_space" x="948.60" y="178.8" font-size="18" style="stroke-width:0.05px" textLength="48.75" lengthAdjust="spacing">space</text>
<text id="t_Inner" x="982.40" y="292" font-size="18" style="stroke-width:0.05px" textLength="42.33" lengthAdjust="spacing">Inner</text>
<text id="t_membraneI" x="983.40" y="313.3" font-size="18" style="stroke-width:0.05px" textLength="87.55" lengthAdjust="spacing">membrane</text>
<text id="t_Mitochondrial" x="958.00" y="401.5" font-size="18" style="stroke-width:0.05px" textLength="114.26" lengthAdjust="spacing">Mitochondrial</text>
<text id="t_matrix" x="958.00" y="423" font-size="18" style="stroke-width:0.05px" textLength="49.50" lengthAdjust="spacing">matrix</text>
<text id="t_I" x="102.50" y="236" font-size="20" style="stroke-width:0.9px" textLength="6.06" lengthAdjust="spacing">I</text>
<text id="t_CoQ" x="223.00" y="219" font-size="19.5" textLength="41.11" lengthAdjust="spacing">CoQ</text>
<text id="t_II" x="240.80" y="278" font-size="20" style="stroke-width:0.9px" textLength="11.32" lengthAdjust="spacing">II</text>
<text id="t_III" x="372.90" y="239.4" font-size="20" style="stroke-width:0.9px" textLength="18.27" lengthAdjust="spacing">III</text>
<text id="t_IV" x="688.90" y="240.5" font-size="18" style="stroke-width:0.8px" textLength="16.92" lengthAdjust="spacing">IV</text>
<text id="t_CytC" x="487.40" y="232.9" font-size="15.8" style="stroke-width:0.9px" textLength="42.60" lengthAdjust="spacing">Cyt C</text>
<text id="t_ATPs" x="889.40" y="283.5" font-size="17.6" style="stroke-width:0.9px" textLength="33.72" lengthAdjust="spacing">ATP</text>
<text id="t_synthase" x="869.60" y="305.5" font-size="17.6" style="stroke-width:0.9px" textLength="73.22" lengthAdjust="spacing">synthase</text>
<text id="t_4H_I" x="93.80" y="152.9" font-size="22" style="fill:#17507f;stroke:#17507f;stroke-width:0.75px">4H</text>
<text id="t_4H_I_p" x="121.30" y="146.4" font-size="14" style="fill:#17507f;stroke:#17507f;stroke-width:0.6px">+</text>
<text id="t_4H_III" x="367.00" y="152" font-size="22" style="fill:#17507f;stroke:#17507f;stroke-width:0.75px">4H</text>
<text id="t_4H_III_p" x="394.30" y="145.9" font-size="14" style="fill:#17507f;stroke:#17507f;stroke-width:0.6px">+</text>
<text id="t_2H_IV" x="680.00" y="151.8" font-size="22" style="fill:#17507f;stroke:#17507f;stroke-width:0.75px">2H</text>
<text id="t_2H_IV_p" x="708.30" y="145.6" font-size="14" style="fill:#17507f;stroke:#17507f;stroke-width:0.6px">+</text>
<text id="t_nH" x="890.40" y="152.9" font-size="22" style="fill:#17507f;stroke:#17507f;stroke-width:0.75px">nH</text>
<text id="t_nH_p" x="918.30" y="145.6" font-size="14" style="fill:#17507f;stroke:#17507f;stroke-width:0.6px">+</text>
<text id="t_NADH" x="33.00" y="426" font-size="21" textLength="59.52" lengthAdjust="spacing">NADH</text>
<text id="t_NAD+" x="119.00" y="426" font-size="21" textLength="51.36" lengthAdjust="spacing">NAD<tspan font-size="12" dy="-8">+</tspan></text>
<text id="t_p2H_nad" x="121.00" y="445.6" font-size="21" textLength="47.14" lengthAdjust="spacing">+<tspan style="fill:#1a5283;stroke:#1a5283;stroke-width:0.8px" dx="3">2H</tspan><tspan style="fill:#1a5283;stroke:#1a5283;stroke-width:0.6px" font-size="12" dy="-8">+</tspan></text>
<text id="t_FADH2" x="196.20" y="400.8" font-size="21" textLength="63.75" lengthAdjust="spacing">FADH<tspan font-size="13" dy="5.5">2</tspan></text>
<text id="t_FAD" x="274.80" y="406.4" font-size="21" textLength="41.74" lengthAdjust="spacing">FAD</text>
<text id="t_p2H_fad" x="271.00" y="427" font-size="21" textLength="48.14" lengthAdjust="spacing">+<tspan style="fill:#1a5283;stroke:#1a5283;stroke-width:0.8px" dx="3">2H</tspan><tspan style="fill:#1a5283;stroke:#1a5283;stroke-width:0.6px" font-size="12" dy="-8">+</tspan></text>
<text id="t_O2_I" x="99.00" y="476.4" font-size="21" style="fill:#de473c;stroke:#de473c" textLength="22.30" lengthAdjust="spacing">O<tspan font-size="12.5" dy="5.5">2</tspan></text>
<text id="t_O2_IIIb" x="365.00" y="452.2" font-size="21" style="fill:#de473c;stroke:#de473c" textLength="21.30" lengthAdjust="spacing">O<tspan font-size="12.5" dy="5.5">2</tspan></text>
<text id="t_O2_IIIt" x="439.00" y="237.8" font-size="21" style="fill:#de473c;stroke:#de473c" textLength="22.30" lengthAdjust="spacing">O<tspan font-size="12.5" dy="5.5">2</tspan></text>
<text id="t_O2b" x="127.40" y="543.2" font-size="21" style="fill:#de473c;stroke:#de473c" textLength="22.30" lengthAdjust="spacing">O<tspan font-size="12.5" dy="5.5">2</tspan></text>
<text id="t_H2O2top" x="536.80" y="190.6" font-size="21" textLength="49.38" lengthAdjust="spacing">H<tspan font-size="13" dy="6">2</tspan><tspan dy="-6">O</tspan><tspan font-size="13" dy="6">2</tspan></text>
<text id="t_H2Otop" x="632.80" y="190.6" font-size="21" textLength="40.95" lengthAdjust="spacing">H<tspan font-size="13" dy="6">2</tspan><tspan dy="-6">O</tspan></text>
<text id="t_Fe2" x="127.80" y="598.1" font-size="21" textLength="41.44" lengthAdjust="spacing">Fe<tspan font-size="13" dy="-8">2+</tspan></text>
<text id="t_Fe3" x="209.80" y="598.1" font-size="21" textLength="40.54" lengthAdjust="spacing">Fe<tspan font-size="13" dy="-8">3+</tspan></text>
<text id="t_H2O2b" x="379.25" y="542.5" font-size="21.5" textLength="50.23" lengthAdjust="spacing">H<tspan font-size="13" dy="6">2</tspan><tspan dy="-6">O</tspan><tspan font-size="13" dy="6">2</tspan></text>
<text id="t_H2OO2" x="535.70" y="534.5" font-size="21" textLength="91.75" lengthAdjust="spacing">H<tspan font-size="13" dy="6">2</tspan><tspan dy="-6">O + O</tspan><tspan font-size="13" dy="6">2</tspan></text>
<text id="t_2GSH" x="410.10" y="598.7" font-size="22" textLength="61.22" lengthAdjust="spacing">2GSH</text>
<text id="t_GSSG" x="503.60" y="598.7" font-size="22" textLength="61.18" lengthAdjust="spacing">GSSG</text>
<text id="t_eq2H" x="488.80" y="442.2" font-size="21.5" style="fill:#1a5283;stroke:#1a5283" textLength="34.80" lengthAdjust="spacing">2H<tspan font-size="12" dy="-9">+</tspan></text>
<text id="t_eqmid" x="525.40" y="442.2" font-size="21" textLength="82.60" lengthAdjust="spacing">+1/2O<tspan font-size="13" dy="5">2</tspan><tspan dy="-5">+</tspan></text>
<text id="t_eqH2O" x="699.80" y="439.6" font-size="20.5" textLength="40.00" lengthAdjust="spacing">H<tspan font-size="13" dy="6">2</tspan><tspan dy="-6">O</tspan></text>
<text id="t_x" x="758.60" y="439.3" font-size="14" textLength="7.40" lengthAdjust="spacing">x</text>
<text id="t_two" x="773.00" y="439.6" font-size="21" textLength="12.89" lengthAdjust="spacing">2</text>
<text id="t_mtDNA" x="768.30" y="649.8" font-size="23.5" textLength="76.13" lengthAdjust="spacing">mtDNA</text>
<text id="t_ADP" x="843.30" y="487" font-size="18" textLength="36.62" lengthAdjust="spacing">ADP</text>
<text id="t_ATPp" x="941.90" y="486" font-size="17.5" style="fill:#ffffff;stroke:#ffffff" textLength="35.05" lengthAdjust="spacing">ATP</text>
<text id="t_2e_I" x="93.80" y="301.3" font-size="21" textLength="28.76" lengthAdjust="spacing">2e<tspan font-size="15" dy="-8">-</tspan></text>
<text id="t_2e_II" x="229.80" y="317" font-size="21" textLength="31.26" lengthAdjust="spacing">2e<tspan font-size="15" dy="-8">-</tspan></text>
<text id="t_2e_eq" x="618.80" y="440" font-size="21" textLength="27.36" lengthAdjust="spacing">2e<tspan font-size="15" dy="-8">-</tspan></text>
<text id="t_e_b" x="179.80" y="516" font-size="21" textLength="16.99" lengthAdjust="spacing">e<tspan font-size="15" dy="-8">-</tspan></text>
<text id="t_OH" x="251.20" y="699.5" font-size="22" style="fill:#3a3535;stroke:#3a3535" textLength="34.30" lengthAdjust="spacing">OH</text>
<text id="t_ONOO" x="322.20" y="699.5" font-size="21.5" style="fill:#3a3535;stroke:#3a3535" textLength="72.96" lengthAdjust="spacing">ONOO-</text>
<text id="t_pill0" x="492.00" y="158.9" font-size="14.5" style="fill:#444444;stroke:#444444;stroke-width:0.2px" textLength="29.42" lengthAdjust="spacing">SOD</text>
<text id="t_pill1" x="594.20" y="159.3" font-size="14.5" style="fill:#444444;stroke:#444444;stroke-width:0.2px" textLength="26.10" lengthAdjust="spacing">GPx</text>
<text id="t_pill2" x="308.00" y="512.8" font-size="14.5" style="fill:#444444;stroke:#444444;stroke-width:0.2px" textLength="28.62" lengthAdjust="spacing">SOD</text>
<text id="t_pill3" x="472.80" y="514.4" font-size="14.5" style="fill:#444444;stroke:#444444;stroke-width:0.2px" textLength="27.54" lengthAdjust="spacing">CAT</text>
<text id="t_pill4" x="472.80" y="568.6" font-size="14.5" style="fill:#444444;stroke:#444444;stroke-width:0.2px" textLength="27.30" lengthAdjust="spacing">GPx</text>
<text id="t_pill5" x="476.40" y="628.6" font-size="14.5" style="fill:#444444;stroke:#444444;stroke-width:0.2px" textLength="21.25" lengthAdjust="spacing">GR</text>
<!-- TEXT END -->

</svg>
</body></html>
